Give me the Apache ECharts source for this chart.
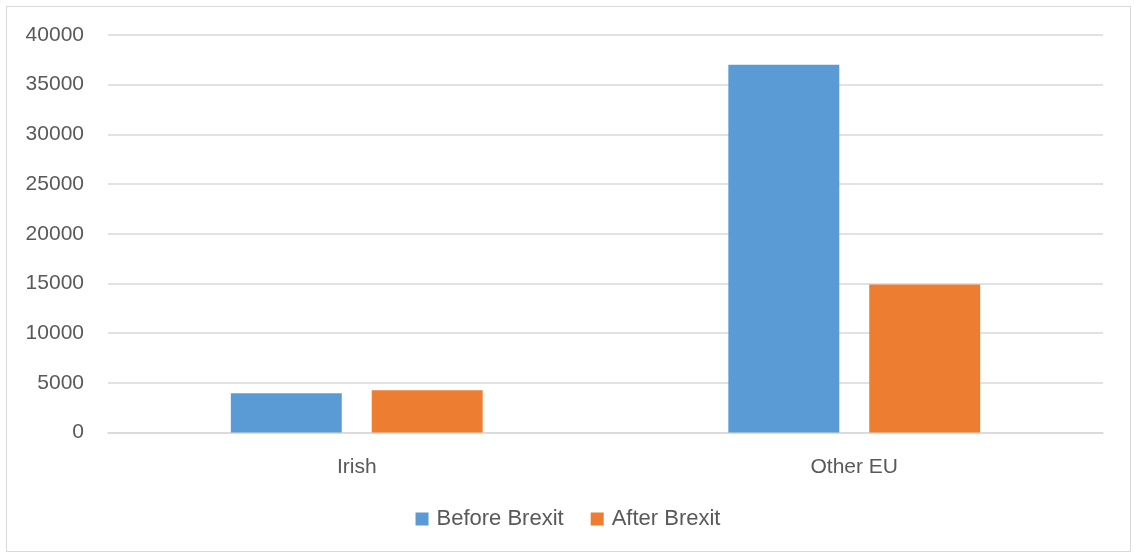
<!DOCTYPE html>
<html><head><meta charset="utf-8">
<script src="https://cdn.jsdelivr.net/npm/echarts@6/dist/echarts.min.js"></script>
<style>
html,body{margin:0;padding:0;background:#fff;}
#frame{position:absolute;left:6px;top:6px;width:1125px;height:546px;border:1px solid #d9d9d9;box-sizing:border-box;}
#c{position:absolute;left:0;top:0;width:1136px;height:558px;}
</style></head>
<body>
<div id="frame"></div>
<div id="c"></div>
<script>
const categories = ['Irish', 'Other EU'];
const seriesNames = ['Before Brexit', 'After Brexit'];
const beforeBrexit = [3950, 37000];
const afterBrexit = [4250, 14900];
const colors = ['#5b9bd5', '#ed7d31'];
const font = 'Liberation Sans';
const txt = '#595959';
const chart = echarts.init(document.getElementById('c'));
chart.setOption({
  animation: false,
  textStyle: {fontFamily: font},
  legend: {
    data: seriesNames, bottom: 23, left: 'center', itemWidth: 13, itemHeight: 13, itemGap: 27,
    icon: 'rect', textStyle: {color: txt, fontSize: 22, fontFamily: font, padding: [0, 0, 0, 3]}
  },
  grid: {left: 108, right: 33, top: 35, bottom: 125.5, containLabel: false},
  xAxis: {
    type: 'category', data: categories,
    axisLine: {lineStyle: {color: '#d9d9d9', width: 1.5}},
    axisTick: {show: false},
    axisLabel: {color: txt, fontSize: 21, margin: 24}
  },
  yAxis: {
    type: 'value', min: 0, max: 40000, interval: 5000,
    axisLine: {show: false}, axisTick: {show: false},
    splitLine: {lineStyle: {color: '#d9d9d9', width: 1.5}},
    axisLabel: {color: txt, fontSize: 21, margin: 24, formatter: v => String(v)}
  },
  series: [
    {name: seriesNames[0], type: 'bar', data: beforeBrexit, itemStyle: {color: colors[0]}, barWidth: '22.3%', barGap: '27%'},
    {name: seriesNames[1], type: 'bar', data: afterBrexit, itemStyle: {color: colors[1]}, barWidth: '22.3%', barGap: '27%'}
  ]
});
</script>
</body></html>
